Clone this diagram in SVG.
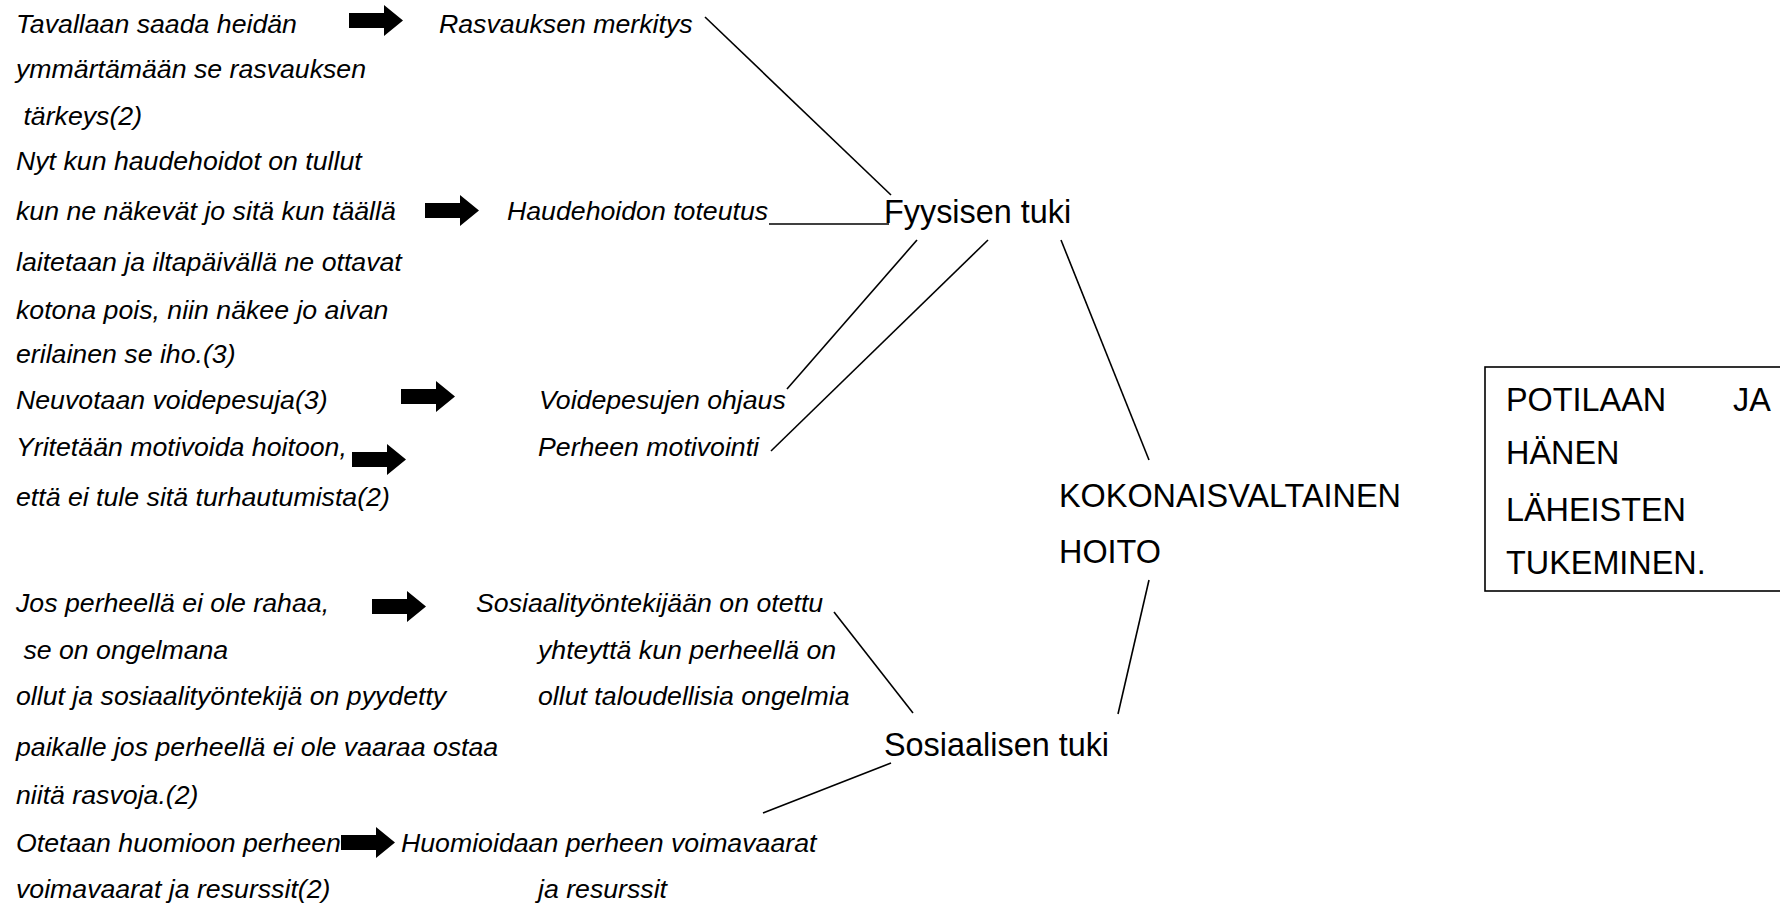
<svg xmlns="http://www.w3.org/2000/svg" width="1780" height="903" viewBox="0 0 1780 903">
<defs>
<style>
.it{font-family:"Liberation Sans",Arial,sans-serif;font-style:italic;font-size:26.7px;fill:#000}
.rg{font-family:"Liberation Sans",Arial,sans-serif;font-size:32.4px;fill:#000}
.ln{stroke:#000;stroke-width:1.6;fill:none}
</style>
<path id="arr" d="M0,8 L35,8 L35,0 L54,15.5 L35,31 L35,23 L0,23 Z" fill="#000"/>
</defs>
<rect width="1780" height="903" fill="#fff"/>
<g id="left-text">
<text class="it" x="16" y="33">Tavallaan saada heidän</text>
<text class="it" x="16" y="78">ymmärtämään se rasvauksen</text>
<text class="it" x="16" y="125" xml:space="preserve"> tärkeys(2)</text>
<text class="it" x="16" y="170">Nyt kun haudehoidot on tullut</text>
<text class="it" x="16" y="220">kun ne näkevät jo sitä kun täällä</text>
<text class="it" x="16" y="271">laitetaan ja iltapäivällä ne ottavat</text>
<text class="it" x="16" y="319">kotona pois, niin näkee jo aivan</text>
<text class="it" x="16" y="363">erilainen se iho.(3)</text>
<text class="it" x="16" y="409">Neuvotaan voidepesuja(3)</text>
<text class="it" x="16" y="456">Yritetään motivoida hoitoon,</text>
<text class="it" x="16" y="506">että ei tule sitä turhautumista(2)</text>
<text class="it" x="16" y="612">Jos perheellä ei ole rahaa,</text>
<text class="it" x="16" y="659" xml:space="preserve"> se on ongelmana</text>
<text class="it" x="16" y="705">ollut ja sosiaalityöntekijä on pyydetty</text>
<text class="it" x="16" y="756">paikalle jos perheellä ei ole vaaraa ostaa</text>
<text class="it" x="16" y="804">niitä rasvoja.(2)</text>
<text class="it" x="16" y="852">Otetaan huomioon perheen</text>
<text class="it" x="16" y="898">voimavaarat ja resurssit(2)</text>
</g>
<g id="arrows">
<use href="#arr" x="349" y="5"/>
<use href="#arr" x="425" y="195"/>
<use href="#arr" x="401" y="381"/>
<use href="#arr" x="352" y="444"/>
<use href="#arr" x="372" y="591"/>
<use href="#arr" x="341" y="827"/>
</g>
<g id="n-rasvaus"><text class="it" x="439" y="33">Rasvauksen merkitys</text></g>
<g id="n-haude"><text class="it" x="507" y="220">Haudehoidon toteutus</text></g>
<g id="n-voide"><text class="it" x="539" y="409">Voidepesujen ohjaus</text></g>
<g id="n-motiv"><text class="it" x="538" y="456">Perheen motivointi</text></g>
<g id="n-sosiaalityo">
<text class="it" x="476" y="612">Sosiaalityöntekijään on otettu</text>
<text class="it" x="538" y="659">yhteyttä kun perheellä on</text>
<text class="it" x="538" y="705">ollut taloudellisia ongelmia</text>
</g>
<g id="n-voimavarat">
<text class="it" x="401" y="852">Huomioidaan perheen voimavaarat</text>
<text class="it" x="538" y="898">ja resurssit</text>
</g>
<g id="n-fyysinen"><text class="rg" x="884" y="223">Fyysisen tuki</text></g>
<g id="n-kokonais">
<text class="rg" x="1059" y="507">KOKONAISVALTAINEN</text>
<text class="rg" x="1059" y="563">HOITO</text>
</g>
<g id="n-sosiaalinen"><text class="rg" x="884" y="756">Sosiaalisen tuki</text></g>
<g id="n-box">
<rect x="1485" y="367" width="320" height="224" fill="none" stroke="#000" stroke-width="1.6"/>
<text class="rg" x="1506" y="411">POTILAAN</text>
<text class="rg" x="1733" y="411">JA</text>
<text class="rg" x="1506" y="464">HÄNEN</text>
<text class="rg" x="1506" y="521">LÄHEISTEN</text>
<text class="rg" x="1506" y="574">TUKEMINEN.</text>
</g>
<g id="connectors">
<line class="ln" x1="705" y1="17" x2="891" y2="195"/>
<line class="ln" x1="769" y1="224" x2="889" y2="224"/>
<line class="ln" x1="917" y1="240" x2="787" y2="389"/>
<line class="ln" x1="988" y1="240" x2="771" y2="451"/>
<line class="ln" x1="1061" y1="240" x2="1149" y2="460"/>
<line class="ln" x1="1149" y1="580" x2="1118" y2="714"/>
<line class="ln" x1="834" y1="612" x2="913" y2="713"/>
<line class="ln" x1="891" y1="763" x2="763" y2="813"/>
</g>
</svg>
